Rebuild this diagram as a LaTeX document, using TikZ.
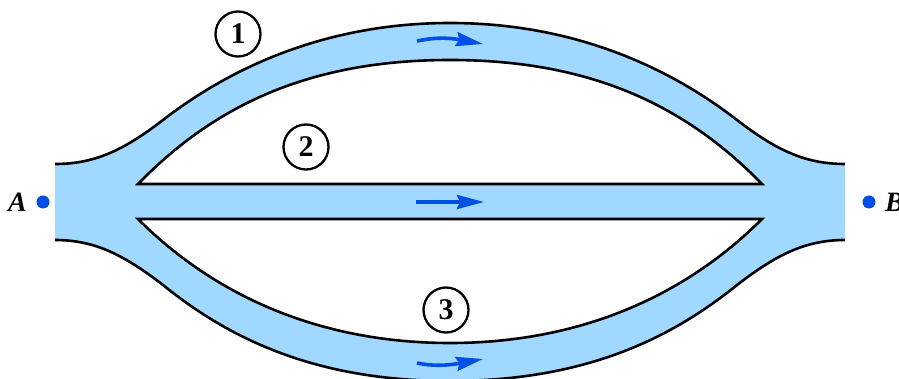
\documentclass[tikz,border=0pt]{standalone}
\usepackage{fontspec}
\setmainfont{Liberation Serif}
\usepackage{xcolor}
\usetikzlibrary{arrows.meta}
\definecolor{pipeblue}{RGB}{160,216,255}
\definecolor{flowblue}{RGB}{0,80,230}
\begin{document}
\begin{tikzpicture}[x=1pt, y=-1pt,
  wall/.style={draw=black, line width=2.6pt},
  flowarr/.style={-{Stealth[length=27pt, width=14pt, inset=3pt]}, draw=flowblue, line width=3.6pt},
  pointdot/.style={circle, fill=flowblue, minimum size=13pt, inner sep=0pt},
  lbl/.style={font=\fontsize{28}{28}\selectfont\bfseries\itshape, inner sep=0pt},
  pathnum/.style={circle, draw=black, line width=2.3pt, fill=white, minimum size=45pt, inner sep=0pt,
                  font=\fontsize{30}{30}\selectfont\bfseries},
]
  \useasboundingbox (0,0) rectangle (899,379);

  % ---- Pipe body ----
  \fill[pipeblue] (55,164) .. controls (95,164) and (124,150) .. (163,120)
    .. controls (225,72) and (320,23) .. (450,23)
    .. controls (580,23) and (675,72) .. (737,120)
    .. controls (776,150) and (805,164) .. (845,164)
    -- (845,240)
    .. controls (805,240) and (776,255) .. (737,285)
    .. controls (675,335) and (590,381) .. (450,381)
    .. controls (310,381) and (225,335) .. (163,285)
    .. controls (124,255) and (95,240) .. (55,240) -- cycle;

  % ---- Openings between the branches ----
  \draw[wall, fill=white] (138,184)
    .. controls (215,105) and (310,60) .. (450,60)
    .. controls (590,60) and (685,105) .. (762,184) -- cycle;
  \draw[wall, fill=white] (138,219)
    .. controls (215,296) and (320,343) .. (450,343)
    .. controls (580,343) and (685,296) .. (762,219) -- cycle;

  % ---- Outer walls ----
  \draw[wall] (55,164) .. controls (95,164) and (124,150) .. (163,120)
    .. controls (225,72) and (320,23) .. (450,23)
    .. controls (580,23) and (675,72) .. (737,120)
    .. controls (776,150) and (805,164) .. (845,164);
  \draw[wall] (55,240) .. controls (95,240) and (124,255) .. (163,285)
    .. controls (225,335) and (310,381) .. (450,381)
    .. controls (590,381) and (675,335) .. (737,285)
    .. controls (776,255) and (805,240) .. (845,240);

  % ---- Flow arrows ----
  \coordinate (top1) at (417,41);
  \coordinate (top2) at (483,44);
  \coordinate (mid1) at (416,202);
  \coordinate (mid2) at (484,202);
  \coordinate (bot1) at (417,363);
  \coordinate (bot2) at (483,359);
  \draw[flowarr] (top1) .. controls (432,38) and (445,37) .. (top2);
  \draw[flowarr] (mid1) -- (mid2);
  \draw[flowarr] (bot1) .. controls (432,366) and (445,366) .. (bot2);

  % ---- End points ----
  \node[pointdot] (dotA) at (43,202) {};
  \node[pointdot] (dotB) at (869,202) {};
  \node[lbl, anchor=east] (labA) at (27,202) {A};
  \node[lbl, anchor=west] (labB) at (885,202) {B};

  % ---- Path numbers ----
  \node[pathnum] (one) at (238,34) {1};
  \node[pathnum] (two) at (306,147) {2};
  \node[pathnum] (three) at (446,310) {3};
\end{tikzpicture}
\end{document}
